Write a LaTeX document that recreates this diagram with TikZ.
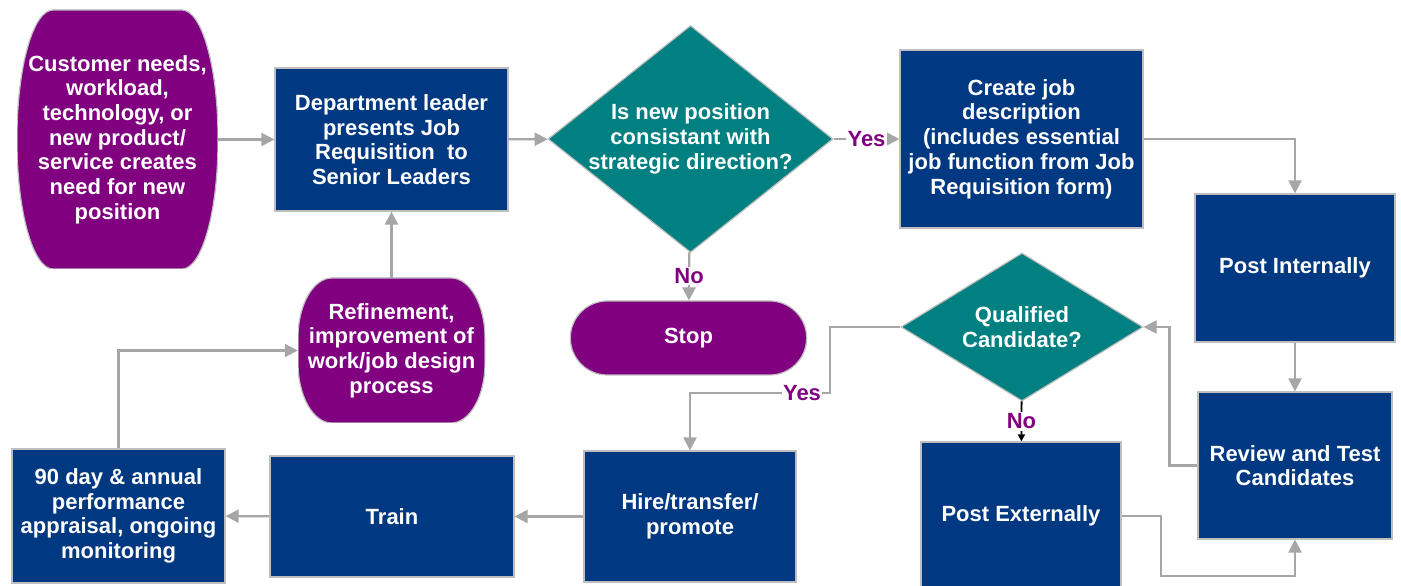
\documentclass[tikz,border=0pt]{standalone}
\usepackage{fontspec}
\setmainfont{Liberation Sans}
\usetikzlibrary{shapes.geometric,shapes.misc,arrows.meta}
\definecolor{jobblue}{RGB}{0,56,130}
\definecolor{jobpurple}{RGB}{128,0,128}
\definecolor{jobteal}{RGB}{0,128,128}
\definecolor{flowgray}{RGB}{166,166,166}
\definecolor{edgegray}{RGB}{190,190,190}
\tikzset{
  every node/.style={font=\fontsize{22}{24.7}\selectfont\bfseries},
  box/.style={rectangle, fill=jobblue, draw=edgegray, line width=1.2pt,
    text=white, align=center, inner sep=0pt},
  decision/.style={diamond, fill=jobteal, draw=edgegray, line width=1.2pt,
    inner sep=0pt},
  dtext/.style={text=white, align=center},
  oval/.style 2 args={rectangle, text=white, align=center, inner sep=0pt,
    path picture={
      \fill[jobpurple, draw=edgegray, line width=1.2pt]
        ([yshift=#2]path picture bounding box.south west)
        -- ([yshift=-#2]path picture bounding box.north west)
        arc[start angle=180, end angle=90, x radius=#1, y radius=#2]
        -- ([xshift=-#1]path picture bounding box.north east)
        arc[start angle=90, end angle=0, x radius=#1, y radius=#2]
        -- ([yshift=#2]path picture bounding box.south east)
        arc[start angle=0, end angle=-90, x radius=#1, y radius=#2]
        -- ([xshift=#1]path picture bounding box.south west)
        arc[start angle=270, end angle=180, x radius=#1, y radius=#2]
        -- cycle;}},
  terminal/.style={rounded rectangle, fill=jobpurple, draw=edgegray,
    line width=1.2pt, text=white},
  flow/.style={draw=flowgray, line width=2.2pt,
    -{Triangle[length=13pt,width=13pt]}},
  flowblack/.style={draw=black, line width=1.8pt,
    -{Triangle[length=7pt,width=7pt]}},
  lbl/.style={text=jobpurple, fill=white, inner sep=1.5pt}
}
\begin{document}
\begin{tikzpicture}[x=1pt,y=1pt]
  \useasboundingbox (0,0) rectangle (1401,586);

  % top row
  \node[oval={36pt}{128pt}, minimum width=201pt, minimum height=259pt] (cust) at (117.5,446.5)
    {Customer needs,\\workload,\\technology, or\\new product/\\service creates\\need for new\\position};
  \node[box, minimum width=233pt, minimum height=143pt] (dept) at (391.5,446.5)
    {Department leader\\presents Job\\Requisition\ \ to\\Senior Leaders};
  \node[decision, minimum width=285pt, minimum height=227pt] (d1) at (690.5,447)
    {};
  \node[dtext] (d1text) at (d1) {Is new position\\consistant with\\strategic direction?};
  \node[box, minimum width=243pt, minimum height=178pt] (create) at (1021.5,447)
    {Create job\\description\\(includes essential\\job function from Job\\Requisition form)};

  % right column
  \node[box, minimum width=200pt, minimum height=148pt] (postin) at (1295,318) {Post Internally};
  \node[box, minimum width=194pt, minimum height=147pt] (review) at (1295,120.5)
    {Review and Test\\Candidates};
  \node[decision, minimum width=242pt, minimum height=148pt] (d2) at (1022,259) {};
  \node[dtext] (d2text) at (d2) {Qualified\\Candidate?};
  \node[box, minimum width=200pt, minimum height=148pt] (postex) at (1021,70) {Post Externally};

  % middle and bottom row
  \node[terminal, minimum width=243pt, minimum height=74pt] (stop) at (688.5,248) {Stop};
  \node[oval={34pt}{60pt}, minimum width=187pt, minimum height=145pt] (refine) at (391.5,235.5)
    {Refinement,\\improvement of\\work/job design\\process};
  \node[box, minimum width=212pt, minimum height=131pt] (hire) at (690,69.5)
    {Hire/transfer/\\promote};
  \node[box, minimum width=244pt, minimum height=121pt] (train) at (392,69.5) {Train};
  \node[box, minimum width=213pt, minimum height=134pt] (appr) at (118.5,70)
    {90 day \& annual\\performance\\appraisal, ongoing\\monitoring};

  \coordinate (yesbend) at (830,193);

  \draw[flow] (cust) -- (dept);
  \draw[flow] (dept) -- (d1);
  \draw[flow] (d1) -- node[lbl] {Yes} (create);
  \draw[flow] (d1) -- node[lbl] {No} (stop);
  \draw[flow] (create) -| (postin);
  \draw[flow] (postin) -- (review);
  \draw[flow] (review.west) -- ++(-28,0) |- (d2.east);
  \draw[flowblack] (d2) -- node[lbl] {No} (postex);
  \draw[flow] (d2.west) -| (yesbend) -- node[lbl, pos=0.2] {Yes} (yesbend -| hire.north) -- (hire.north);
  \draw[flow] (postex.east) -| ++(39,-60) -| (review.south);
  \draw[flow] (hire) -- (train);
  \draw[flow] (train) -- (appr);
  \draw[flow] (appr.north) |- (refine.west);
  \draw[flow] (refine) -- (dept);
\end{tikzpicture}
\end{document}
